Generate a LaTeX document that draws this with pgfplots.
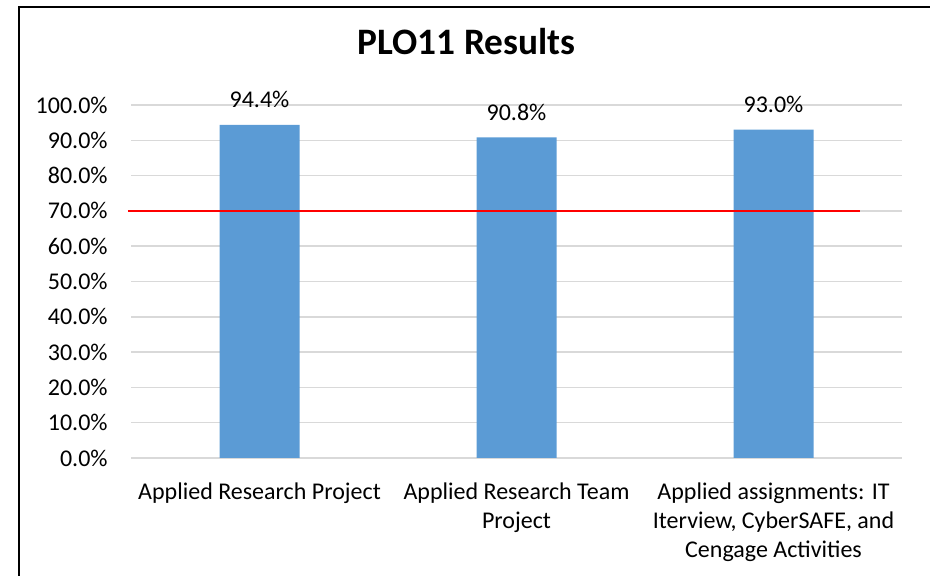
\documentclass[border=0pt]{standalone}
\usepackage{pgfplots}
\pgfplotsset{compat=1.18}
\usepackage{fontspec}
\setmainfont{Carlito}
\definecolor{barblue}{HTML}{5B9BD5}
\definecolor{gridgray}{HTML}{D9D9D9}
\begin{document}
\begin{tikzpicture}
\useasboundingbox (0,0) rectangle (465pt,288pt);
\draw[line width=1pt, black] (9.5pt,0) -- (9.5pt,284.5pt) -- (465pt,284.5pt);
\node[anchor=base, font=\fontsize{18.67}{22}\selectfont\bfseries] at (233.25pt,260.5pt) {PLO11 Results};
\begin{axis}[
  at={(65.5pt,59pt)}, anchor=south west,
  scale only axis, width=385.5pt, height=176.5pt,
  xmin=-0.5, xmax=2.5, ymin=0, ymax=100,
  clip=false,
  axis line style={draw=none},
  tick style={draw=none},
  ymajorgrids, grid style={color=gridgray, line width=0.75pt},
  ytick={0,10,...,100},
  yticklabel={\pgfmathprintnumber[fixed,fixed zerofill,precision=1]{\tick}\%},
  yticklabel style={inner sep=0pt, anchor=east, xshift=-11.5pt, font=\fontsize{12}{14.5}\selectfont},
  xtick={0,1,2},
  xticklabels={{Applied Research Project},{Applied Research Team\\Project},{Applied assignments: IT\\Iterview, CyberSAFE, and\\Cengage Activities}},
  xticklabel style={inner sep=0pt, anchor=north, yshift=-12pt, align=center, font=\fontsize{12}{14.5}\selectfont},
  /pgf/number format/assume math mode=true,
]
\addplot[ybar, bar width=40pt, fill=barblue, draw=none,
  nodes near coords={\pgfmathprintnumber[fixed,fixed zerofill,precision=1,assume math mode=true]{\pgfplotspointmeta}\%},
  nodes near coords style={anchor=base, yshift=8.5pt, inner sep=0pt, font=\fontsize{12}{14.5}\selectfont, black}]
  coordinates {(0,94.4) (1,90.8) (2,93.0)};
\addplot[red, line width=1pt, mark=none] coordinates {(-0.512,70) (2.337,70)};
\end{axis}
\end{tikzpicture}
\end{document}
